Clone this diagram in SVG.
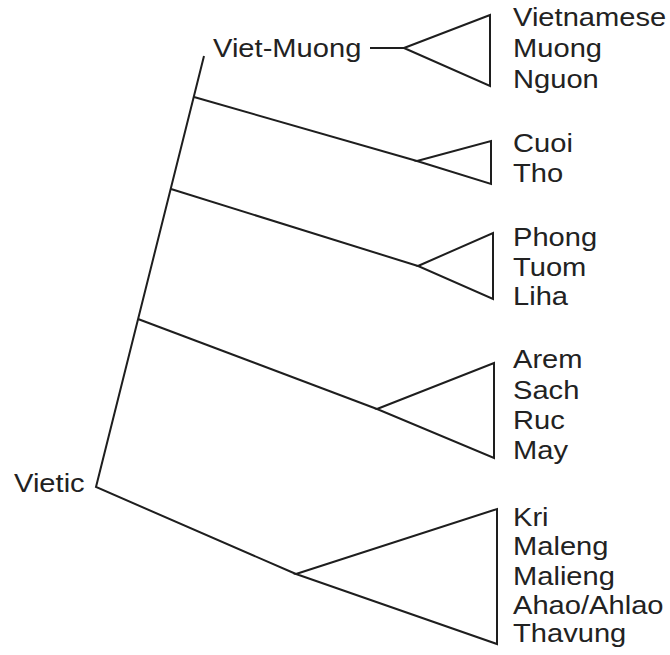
<svg xmlns="http://www.w3.org/2000/svg" width="670" height="655" viewBox="0 0 670 655">
<style>
.ln{stroke:#1e1e1e;stroke-width:2;fill:none;stroke-linejoin:miter}
.t{font-family:"Liberation Sans",Arial,sans-serif;font-size:26px;fill:#222}
</style>
<rect width="670" height="655" fill="#fff"/>
<g id="connectors" class="ln">
<polyline points="204,56 96,487 296,574"/>
<line x1="194" y1="97" x2="417" y2="161"/>
<line x1="171" y1="189" x2="418" y2="266"/>
<line x1="138" y1="319" x2="377" y2="409"/>
<line x1="370" y1="48" x2="404" y2="48"/>
</g>
<g id="vietic"><text class="t" transform="translate(14,492) scale(1.12,1)">Vietic</text></g>
<g id="viet-muong"><text class="t" transform="translate(213,57) scale(1.12,1)">Viet-Muong</text></g>
<g id="group-vietnamese">
<polygon class="ln" points="404,48 490,15 490,86"/>
<g transform="translate(513,0) scale(1.12,1)">
<text class="t" y="26">Vietnamese</text>
<text class="t" y="57">Muong</text>
<text class="t" y="88">Nguon</text>
</g>
</g>
<g id="group-cuoi">
<polygon class="ln" points="417,161 491,141 491,184"/>
<g transform="translate(513,0) scale(1.12,1)">
<text class="t" y="152">Cuoi</text>
<text class="t" y="182">Tho</text>
</g>
</g>
<g id="group-phong">
<polygon class="ln" points="418,266 493,233 493,299"/>
<g transform="translate(513,0) scale(1.12,1)">
<text class="t" y="246">Phong</text>
<text class="t" y="276">Tuom</text>
<text class="t" y="305">Liha</text>
</g>
</g>
<g id="group-arem">
<polygon class="ln" points="377,409 494,363 494,458"/>
<g transform="translate(513,0) scale(1.12,1)">
<text class="t" y="368">Arem</text>
<text class="t" y="399">Sach</text>
<text class="t" y="429">Ruc</text>
<text class="t" y="459">May</text>
</g>
</g>
<g id="group-kri">
<polygon class="ln" points="296,574 497,509 497,644"/>
<g transform="translate(513,0) scale(1.12,1)">
<text class="t" y="526">Kri</text>
<text class="t" y="555">Maleng</text>
<text class="t" y="585">Malieng</text>
<text class="t" y="614">Ahao/Ahlao</text>
<text class="t" y="642">Thavung</text>
</g>
</g>
</svg>
